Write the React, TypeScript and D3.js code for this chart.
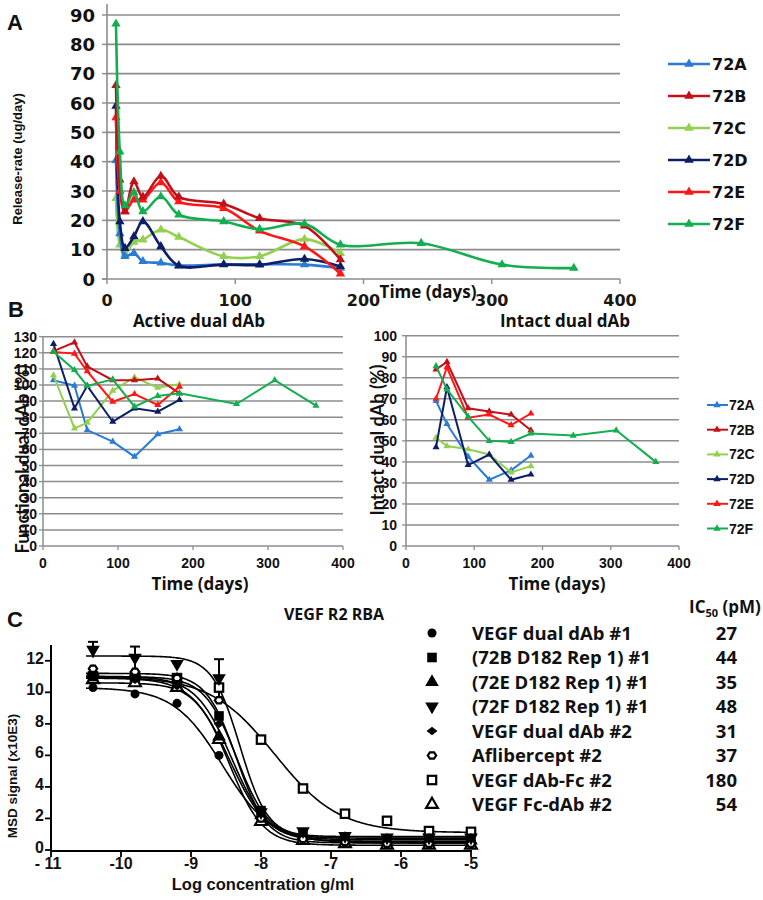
import React from 'react';
import * as d3 from 'd3';

// ---------------- shared series ----------------
const seriesNames = ['72A', '72B', '72C', '72D', '72E', '72F'];
const seriesColors = ['#2a7bd2', '#c20f18', '#92d050', '#0c1f66', '#ff1717', '#12ae4f'];

// ---------------- Panel A: release rate (ug/day) ----------------
const daysA = [7, 10, 14, 21, 28, 42, 56, 91, 119, 154, 182];
const daysA72F = [7, 10, 14, 21, 28, 42, 56, 91, 119, 154, 182, 245, 308, 364];
const rateA72A = [40.5, 15.5, 7.7, 8.8, 6.0, 5.5, 4.6, 5.0, 5.0, 4.9, 3.7];
const rateA72B = [66, 33.8, 23, 33.2, 28, 35.1, 28, 25.6, 20.7, 18.1, 6.6];
const rateA72C = [27.5, 11.7, 8.5, 12.6, 13.4, 16.8, 14.3, 7.7, 7.7, 13.6, 8.8];
const rateA72D = [59, 19.6, 10.5, 14.5, 19.6, 11.1, 4.5, 4.9, 4.8, 6.8, 4.3];
const rateA72E = [55, 30, 23, 27, 27, 32.9, 26.4, 24.1, 16.4, 11.1, 1.8];
const rateA72F = [87, 43.4, 25, 29.5, 23, 28.1, 21.9, 19.6, 17, 18.8, 11.7, 12.2, 4.9, 3.7];
const ticksAY = [0, 10, 20, 30, 40, 50, 60, 70, 80, 90];
const ticksAX = [0, 100, 200, 300, 400];

// ---------------- Panel B left: functional dual dAb (%) ----------------
const daysBL = [14, 42, 59, 93, 122, 153, 182];
const daysBL72F = [14, 42, 59, 93, 122, 153, 182, 258, 309, 364];
const funcB72A = [103, 99.6, 72, 64.8, 55.5, 69.4, 72.5];
const funcB72B = [121, 126.5, 111.5, 103, 103, 104, 94.8];
const funcB72C = [106, 73, 76.6, 96.5, 104.8, 98.3, 100.4];
const funcB72D = [125.5, 85.5, 99.5, 77.2, 85.5, 83.4, 90.7];
const funcB72E = [120.5, 119.5, 108.5, 89.6, 94.4, 87.6, 99];
const funcB72F = [120.7, 109.3, 99.4, 103.5, 86.5, 93.2, 94.8, 88.2, 103, 87.2];
const ticksBLY = [0, 10, 20, 30, 40, 50, 60, 70, 80, 90, 100, 110, 120, 130];

// ---------------- Panel B right: intact dual dAb (%) ----------------
const daysBR = [44, 60, 91, 122, 154, 183];
const daysBR72F = [44, 60, 91, 122, 154, 183, 245, 308, 366];
const intB72A = [69, 58, 42.5, 31.5, 36, 43];
const intB72B = [84, 87.5, 65.5, 64, 62.5, 55];
const intB72C = [51.5, 47.5, 46, 43.5, 35, 38];
const intB72D = [47, 75.5, 38.5, 43.5, 31.5, 34];
const intB72E = [70, 85, 61, 62.5, 57.5, 63];
const intB72F = [85.5, 74.5, 61.5, 50, 49.5, 53.5, 52.5, 55, 40];
const ticksBRY = [0, 10, 20, 30, 40, 50, 60, 70, 80, 90, 100];
const ticksBX = [0, 100, 200, 300, 400];

// ---------------- Panel C: VEGF R2 RBA ----------------
const logConc = [-10.4, -9.8, -9.2, -8.6, -8.0, -7.4, -6.8, -6.2, -5.6, -5.0];
const cNames = ['VEGF dual dAb #1', '(72B D182 Rep 1) #1', '(72E D182 Rep 1) #1', '(72F D182 Rep 1) #1',
  'VEGF dual dAb #2', 'Aflibercept #2', 'VEGF dAb-Fc #2', 'VEGF Fc-dAb #2'];
const cIC50 = ['27', '44', '35', '48', '31', '37', '180', '54'];
const cMarkers = ['circle', 'square', 'triangle', 'invtriangle', 'diamond', 'openhex', 'opensquare', 'opentriangle'];
const sigVegf1 = [10.3, 9.9, 9.3, 6.0, 2.0, 0.8, 0.5, 0.4, 0.4, 0.4];
const sig72B = [11.0, 11.0, 10.6, 8.5, 2.5, 1.0, 0.8, 0.7, 0.7, 0.7];
const sig72E = [11.3, 11.2, 10.8, 7.2, 2.2, 0.9, 0.7, 0.6, 0.6, 0.6];
const sig72F = [12.7, 12.2, 11.8, 10.9, 2.4, 1.2, 0.9, 0.8, 0.8, 0.8];
const sigVegf2 = [11.2, 10.8, 10.4, 8.0, 2.0, 0.8, 0.6, 0.5, 0.5, 0.5];
const sigAflib = [11.5, 11.3, 10.9, 9.5, 2.0, 0.7, 0.5, 0.4, 0.4, 0.4];
const sigDabFc = [11.0, 11.0, 10.9, 10.3, 7.0, 3.9, 2.3, 1.85, 1.2, 1.15];
const sigFcDab = [10.8, 10.6, 10.3, 7.0, 1.8, 0.6, 0.4, 0.3, 0.3, 0.3];
const err72F = [0.5, 0.7, 0, 1.2, 0, 0, 0, 0, 0, 0];
// 4-parameter logistic fits
const fitTop = [10.3, 11.0, 11.0, 12.3, 10.9, 11.2, 11.0, 10.6];
const fitBottom = [0.45, 0.75, 0.65, 0.85, 0.55, 0.45, 1.1, 0.3];
const fitLogIC50 = [-8.55, -8.35, -8.42, -8.3, -8.45, -8.35, -7.8, -8.45];
const fitHill = [1.25, 1.9, 1.7, 2.2, 1.6, 2.0, 0.95, 1.8];
const ticksCY = [0, 2, 4, 6, 8, 10, 12];
const ticksCX = [-11, -10, -9, -8, -7, -6, -5];
const ticksCXLabels = ['- 11', '-10', '-9', '-8', '-7', '-6', '-5'];

const F_DJ = "'DejaVu Sans', Verdana, sans-serif";
const F_AR = "'Liberation Sans', Arial, sans-serif";
const F_NAR = "'Liberation Sans Narrow', 'Arial Narrow', 'Liberation Sans', sans-serif";
const F_OS = "'Open Sans', 'Liberation Sans', sans-serif";
const F_LA = "Lato, 'Open Sans', sans-serif";

const triPath = (s: number) => d3.symbol().type(d3.symbolTriangle).size(s)() as string;

function PanelA() {
  const x = d3.scaleLinear().domain([0, 400]).range([107, 620]);
  const y = d3.scaleLinear().domain([0, 90]).range([279, 15]);
  const line = d3.line<[number, number]>().x(d => x(d[0])).y(d => y(d[1])).curve(d3.curveCatmullRom.alpha(0.5));
  const vals = [rateA72A, rateA72B, rateA72C, rateA72D, rateA72E, rateA72F];
  const days = [daysA, daysA, daysA, daysA, daysA, daysA72F];
  const order = [2, 0, 3, 4, 1, 5];
  const grid = '#8c8c8c';
  return (
    <g>
      {ticksAY.filter(v => v > 0).map(v => (
        <line key={'g' + v} x1={x(0)} x2={x(400)} y1={y(v)} y2={y(v)} stroke={grid} strokeWidth={1.6} />
      ))}
      <line x1={x(0)} x2={x(0)} y1={4} y2={y(0)} stroke={grid} strokeWidth={1.6} />
      <line x1={x(0) - 5} x2={x(400)} y1={y(0)} y2={y(0)} stroke={grid} strokeWidth={1.6} />
      {ticksAY.map(v => (
        <line key={'yt' + v} x1={x(0) - 5} x2={x(0)} y1={y(v)} y2={y(v)} stroke={grid} strokeWidth={1.4} />
      ))}
      {ticksAX.map(v => (
        <line key={'xt' + v} x1={x(v)} x2={x(v)} y1={y(0)} y2={y(0) + 5} stroke={grid} strokeWidth={1.4} />
      ))}
      {ticksAY.map(v => (
        <text key={'yl' + v} x={95} y={y(v) + 6.5} textAnchor="end" fontFamily={F_DJ} fontWeight="bold" fontSize={18} fill="#111">{v}</text>
      ))}
      {ticksAX.map(v => (
        <text key={'xl' + v} x={x(v)} y={306} textAnchor="middle" fontFamily={F_DJ} fontWeight="bold" fontSize={16} fill="#1c1610">{v}</text>
      ))}
      <text x={428} y={298} textAnchor="middle" fontFamily={F_OS} fontWeight="bold" fontSize={17} fill="#111">Time (days)</text>
      <text transform="translate(22,159) rotate(-90)" textAnchor="middle" fontFamily={F_AR} fontWeight="bold" fontSize={13} fill="#111">Release-rate (ug/day)</text>
      <text x={7} y={30} fontFamily={F_AR} fontWeight="bold" fontSize={22} fill="#111">A</text>
      {order.map(i => {
        const pts = days[i].map((d, k) => [d, vals[i][k]] as [number, number]);
        return (
          <g key={'s' + i}>
            <path d={line(pts) as string} fill="none" stroke={seriesColors[i]} strokeWidth={2.6} />
            {pts.map((p, k) => (
              <path key={k} d={triPath(38)} transform={`translate(${x(p[0])},${y(p[1])})`} fill={seriesColors[i]} />
            ))}
          </g>
        );
      })}
      {seriesNames.map((n, i) => {
        const yy = 64 + i * 32;
        return (
          <g key={'lg' + n}>
            <line x1={668} x2={710} y1={yy} y2={yy} stroke={seriesColors[i]} strokeWidth={2.6} />
            <path d={triPath(40)} transform={`translate(689,${yy})`} fill={seriesColors[i]} />
            <text x={712} y={yy + 6} fontFamily={F_DJ} fontWeight="bold" fontSize={16} fill="#111">{n}</text>
          </g>
        );
      })}
    </g>
  );
}

function LinePanelB(props: { x0: number; x1: number; yTop: number; ymax: number; ticksY: number[]; labelX: number;
  vals: number[][]; days: number[][] }) {
  const { x0, x1, yTop, ymax, ticksY, labelX, vals, days } = props;
  const x = d3.scaleLinear().domain([0, 400]).range([x0, x1]);
  const y = d3.scaleLinear().domain([0, ymax]).range([546, yTop]);
  const line = d3.line<[number, number]>().x(d => x(d[0])).y(d => y(d[1]));
  const grid = '#8c8c8c';
  const order = [0, 2, 3, 1, 4, 5];
  return (
    <g>
      {ticksY.filter(v => v > 0).map(v => (
        <line key={'g' + v} x1={x(0)} x2={x(400)} y1={y(v)} y2={y(v)} stroke={grid} strokeWidth={1.5} />
      ))}
      <line x1={x(0)} x2={x(0)} y1={y(ymax)} y2={y(0)} stroke={grid} strokeWidth={1.5} />
      <line x1={x(0)} x2={x(400)} y1={y(0)} y2={y(0)} stroke={grid} strokeWidth={1.5} />
      {ticksBX.map(v => (
        <line key={'xt' + v} x1={x(v)} x2={x(v)} y1={y(0)} y2={y(0) + 4} stroke={grid} strokeWidth={1.3} />
      ))}
      {ticksY.map(v => (
        <line key={'yt' + v} x1={x(0) - 4} x2={x(0)} y1={y(v)} y2={y(v)} stroke={grid} strokeWidth={1.3} />
      ))}
      {ticksY.map(v => (
        <text key={'yl' + v} x={labelX} y={y(v) + 5} textAnchor="end" fontFamily={F_NAR} fontWeight="bold" fontSize={14} fill="#111">{v}</text>
      ))}
      {ticksBX.map(v => (
        <text key={'xl' + v} x={x(v)} y={568} textAnchor="middle" fontFamily={F_NAR} fontWeight="bold" fontSize={14} fill="#111">{v}</text>
      ))}
      {order.map(i => {
        const pts = days[i].map((d, k) => [d, vals[i][k]] as [number, number]);
        return (
          <g key={'s' + i}>
            <path d={line(pts) as string} fill="none" stroke={seriesColors[i]} strokeWidth={2} />
            {pts.map((p, k) => (
              <path key={k} d={triPath(22)} transform={`translate(${x(p[0])},${y(p[1])})`} fill={seriesColors[i]} />
            ))}
          </g>
        );
      })}
    </g>
  );
}

function PanelB() {
  return (
    <g>
      <text x={8} y={317} fontFamily={F_AR} fontWeight="bold" fontSize={22} fill="#111">B</text>
      <text x={199} y={327} textAnchor="middle" fontFamily={F_OS} fontWeight="bold" fontSize={17} fill="#111">Active dual dAb</text>
      <text x={565} y={327} textAnchor="middle" fontFamily={F_OS} fontWeight="bold" fontSize={17} fill="#111">Intact dual dAb</text>
      <LinePanelB x0={43} x1={343} yTop={336.7} ymax={130} ticksY={ticksBLY} labelX={37}
        vals={[funcB72A, funcB72B, funcB72C, funcB72D, funcB72E, funcB72F]}
        days={[daysBL, daysBL, daysBL, daysBL, daysBL, daysBL72F]} />
      <LinePanelB x0={406} x1={679} yTop={335.7} ymax={100} ticksY={ticksBRY} labelX={397}
        vals={[intB72A, intB72B, intB72C, intB72D, intB72E, intB72F]}
        days={[daysBR, daysBR, daysBR, daysBR, daysBR, daysBR72F]} />
      <text transform="translate(29,459) rotate(-90)" textAnchor="middle" fontFamily={F_LA} fontWeight="bold" fontSize={18} fill="#111">Functional dual dAb (%)</text>
      <text transform="translate(384,440) rotate(-90)" textAnchor="middle" fontFamily={F_LA} fontWeight="bold" fontSize={18} fill="#111">Intact dual dAb (%)</text>
      <text x={200} y={590} textAnchor="middle" fontFamily={F_OS} fontWeight="bold" fontSize={17} fill="#111">Time (days)</text>
      <text x={557} y={590} textAnchor="middle" fontFamily={F_OS} fontWeight="bold" fontSize={17} fill="#111">Time (days)</text>
      {seriesNames.map((n, i) => {
        const yy = 405 + i * 24.7;
        return (
          <g key={'lb' + n}>
            <line x1={707} x2={728} y1={yy} y2={yy} stroke={seriesColors[i]} strokeWidth={2} />
            <path d={triPath(24)} transform={`translate(717,${yy})`} fill={seriesColors[i]} />
            <text x={729} y={yy + 5} fontFamily={F_NAR} fontWeight="bold" fontSize={14} fill="#111">{n}</text>
          </g>
        );
      })}
    </g>
  );
}

function Marker(props: { kind: string; cx: number; cy: number; s: number }) {
  const { kind, cx, cy, s } = props;
  const t = `translate(${cx},${cy})`;
  if (kind === 'circle') return <circle cx={cx} cy={cy} r={s * 0.45} fill="#000" />;
  if (kind === 'square') return <rect x={cx - s * 0.48} y={cy - s * 0.48} width={s * 0.96} height={s * 0.96} fill="#000" />;
  if (kind === 'triangle') return <path d={triPath(s * s * 0.8)} transform={t} fill="#000" />;
  if (kind === 'invtriangle') return <path d={triPath(s * s * 0.8)} transform={`${t} rotate(180)`} fill="#000" />;
  if (kind === 'diamond') return <path d={`M${-s * 0.55},0L0,${-s * 0.42}L${s * 0.55},0L0,${s * 0.42}Z`} transform={t} fill="#000" />;
  if (kind === 'openhex') {
    const r = s * 0.42;
    const pts = d3.range(6).map(k => [r * Math.cos(k * Math.PI / 3), r * Math.sin(k * Math.PI / 3) * 0.85]);
    return <path d={'M' + pts.map(p => p.join(',')).join('L') + 'Z'} transform={t} fill="#fff" stroke="#000" strokeWidth={2.2} />;
  }
  if (kind === 'opensquare') return <rect x={cx - s * 0.42} y={cy - s * 0.42} width={s * 0.84} height={s * 0.84} fill="#fff" stroke="#000" strokeWidth={2.2} />;
  if (kind === 'opentriangle') return <path d={triPath(s * s * 0.6)} transform={t} fill="#fff" stroke="#000" strokeWidth={2.2} />;
  return null;
}

function PanelC() {
  const x = d3.scaleLinear().domain([-11, -5]).range([51, 471]);
  const y = d3.scaleLinear().domain([0, 13]).range([850, 645]);
  const sigs = [sigVegf1, sig72B, sig72E, sig72F, sigVegf2, sigAflib, sigDabFc, sigFcDab];
  const curveX = d3.range(-10.5, -4.95, 0.02);
  const line = d3.line<[number, number]>().x(d => x(d[0])).y(d => y(d[1]));
  const drawOrder = [6, 0, 7, 4, 2, 1, 5, 3];
  return (
    <g>
      <text x={7} y={627} fontFamily={F_AR} fontWeight="bold" fontSize={22} fill="#111">C</text>
      <text x={334} y={620} textAnchor="middle" fontFamily={F_OS} fontWeight="bold" fontSize={16} fill="#111">VEGF R2 RBA</text>
      <line x1={x(-11)} x2={x(-11)} y1={645} y2={y(0) + 1} stroke="#000" strokeWidth={2} />
      <line x1={x(-11)} x2={x(-5) + 1} y1={y(0) + 1} y2={y(0) + 1} stroke="#000" strokeWidth={2} />
      {ticksCY.map(v => (
        <line key={'yt' + v} x1={x(-11) - 6} x2={x(-11)} y1={y(v)} y2={y(v)} stroke="#000" strokeWidth={1.8} />
      ))}
      {ticksCX.map(v => (
        <line key={'xt' + v} x1={x(v)} x2={x(v)} y1={y(0)} y2={y(0) + 7} stroke="#000" strokeWidth={1.8} />
      ))}
      {ticksCY.map(v => (
        <text key={'yl' + v} x={44} y={y(v) + 3} textAnchor="end" fontFamily={F_AR} fontWeight="bold" fontSize={16} fill="#111">{v}</text>
      ))}
      {ticksCX.map((v, i) => (
        <text key={'xl' + v} x={x(v) + (i === 0 ? -3 : 0)} y={869} textAnchor="middle" fontFamily={F_AR} fontWeight="bold" fontSize={16} fill="#111">{ticksCXLabels[i]}</text>
      ))}
      <text x={263} y={890} textAnchor="middle" fontFamily={F_AR} fontWeight="bold" fontSize={16.5} fill="#111">Log concentration g/ml</text>
      <text transform="translate(17,776) rotate(-90)" textAnchor="middle" fontFamily={F_AR} fontWeight="bold" fontSize={13.5} fill="#111">MSD signal (x10E3)</text>
      {drawOrder.map(i => {
        const pts = curveX.map(c => [c, fitBottom[i] + (fitTop[i] - fitBottom[i]) / (1 + Math.pow(10, (c - fitLogIC50[i]) * fitHill[i]))] as [number, number]);
        return <path key={'c' + i} d={line(pts) as string} fill="none" stroke="#000" strokeWidth={1.6} />;
      })}
      {logConc.map((c, k) => err72F[k] > 0 ? (
        <g key={'e' + k}>
          <line x1={x(c)} x2={x(c)} y1={y(sig72F[k] + err72F[k])} y2={y(sig72F[k] - err72F[k])} stroke="#000" strokeWidth={2} />
          <line x1={x(c) - 5} x2={x(c) + 5} y1={y(sig72F[k] + err72F[k])} y2={y(sig72F[k] + err72F[k])} stroke="#000" strokeWidth={2} />
        </g>
      ) : null)}
      {drawOrder.map(i => (
        <g key={'m' + i}>
          {logConc.map((c, k) => (
            <Marker key={k} kind={cMarkers[i]} cx={x(c)} cy={y(sigs[i][k])} s={10} />
          ))}
        </g>
      ))}
      <text x={725} y={613} textAnchor="middle" fontFamily={F_OS} fontWeight="bold" fontSize={17} fill="#111">IC<tspan fontSize={11} dy={4}>50</tspan><tspan dy={-4}> (pM)</tspan></text>
      {cNames.map((n, i) => {
        const yy = 633 + i * 24.5;
        return (
          <g key={'lc' + i}>
            <Marker kind={cMarkers[i]} cx={432} cy={yy} s={10} />
            <text x={472} y={yy + 6.5} fontFamily={F_OS} fontWeight="bold" fontSize={18.5} fill="#111">{n}</text>
            <text x={737} y={yy + 6.5} textAnchor="end" fontFamily={F_OS} fontWeight="bold" fontSize={18.5} fill="#111">{cIC50[i]}</text>
          </g>
        );
      })}
    </g>
  );
}

export default function App() {
  return (
    <svg width={763} height={900} style={{ position: 'absolute', left: 0, top: 0, background: '#fff' }}>
      <rect width={763} height={900} fill="#fff" />
      <PanelA />
      <PanelB />
      <PanelC />
    </svg>
  );
}
